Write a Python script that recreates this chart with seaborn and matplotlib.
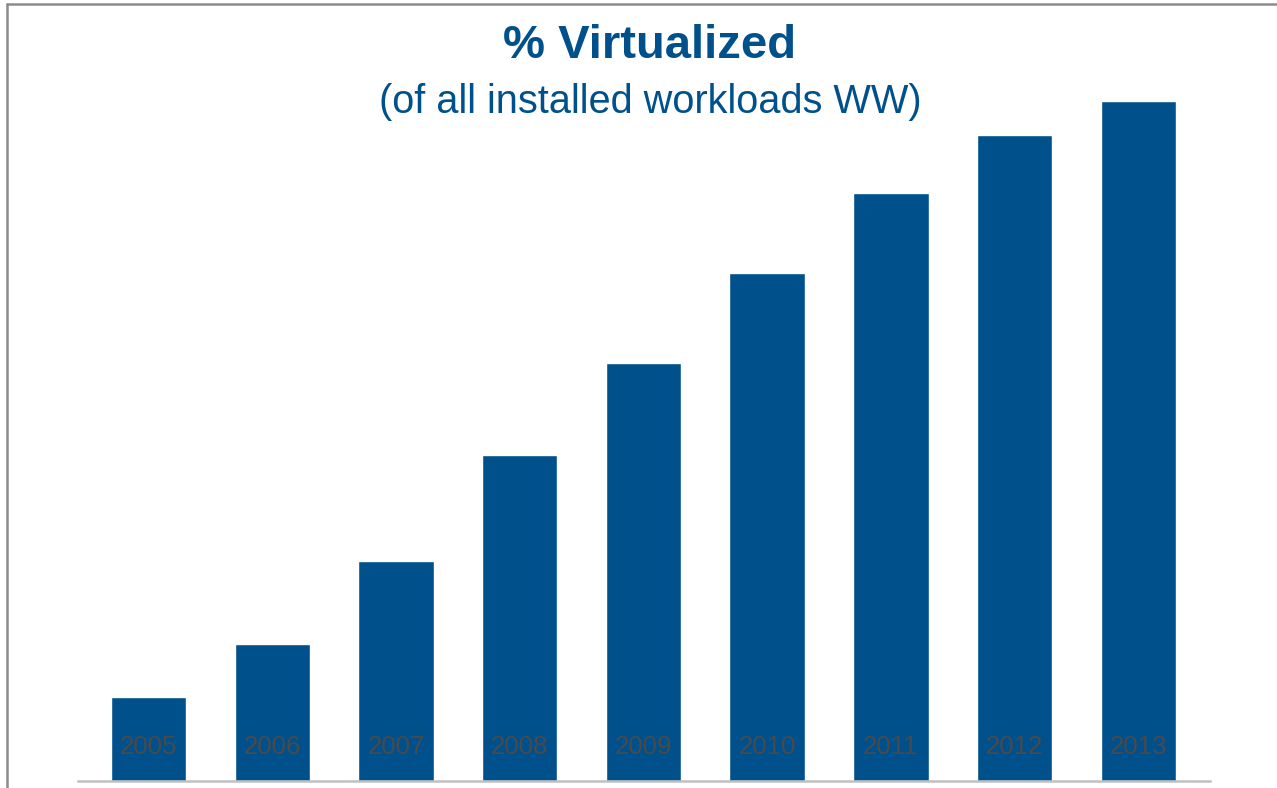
import matplotlib
matplotlib.use('Agg')
import matplotlib.pyplot as plt
import seaborn as sns
import pandas as pd
from matplotlib.lines import Line2D

sns.set_theme(style='white')
plt.rcParams['font.family'] = ['Liberation Sans', 'DejaVu Sans']

years = ['2005', '2006', '2007', '2008', '2009', '2010', '2011', '2012', '2013']
pct_virtualized = [7.0, 11.4, 18.3, 27.2, 34.8, 42.3, 49.0, 53.8, 56.7]

bar_color = '#00518B'
title_color = '#00518B'

df = pd.DataFrame({'year': years, 'pct': pct_virtualized})

W, H = 1277, 788
fig = plt.figure(figsize=(W / 100, H / 100), dpi=100)
ax = fig.add_axes([78 / W, 7 / H, (1210 - 78) / W, 741 / H])

sns.barplot(data=df, x='year', y='pct', color=bar_color, width=0.61,
            saturation=1, ax=ax)
ax.set_xlim(-0.57, 8.58)
ax.set_ylim(0, 741 / 12)

# year labels sit inside the bars
for i, yr in enumerate(years):
    ax.text(i, 2.85, yr, ha='center', va='center', fontsize=18.6, color='#4a4a4a')

ax.set_xticks([])
ax.set_yticks([])
ax.set_xlabel('')
ax.set_ylabel('')
for s in ['top', 'right', 'left']:
    ax.spines[s].set_visible(False)
ax.spines['bottom'].set_color('#c0c0c0')
ax.spines['bottom'].set_linewidth(1.8)

fig.text(650 / W, 1 - 46 / H, '% Virtualized', ha='center', va='center',
         fontsize=34, fontweight='bold', color=title_color)
fig.text(650 / W, 1 - 102 / H, '(of all installed workloads WW)', ha='center',
         va='center', fontsize=28.6, color=title_color)

# frame lines at top and left
fig.add_artist(Line2D([7 / W, 1], [1 - 4 / H, 1 - 4 / H], color='#8c8c8c',
                      linewidth=1.8, transform=fig.transFigure))
fig.add_artist(Line2D([7 / W, 7 / W], [0, 1 - 4 / H], color='#8c8c8c',
                      linewidth=1.8, transform=fig.transFigure))

fig.savefig('out.png', dpi=100)
